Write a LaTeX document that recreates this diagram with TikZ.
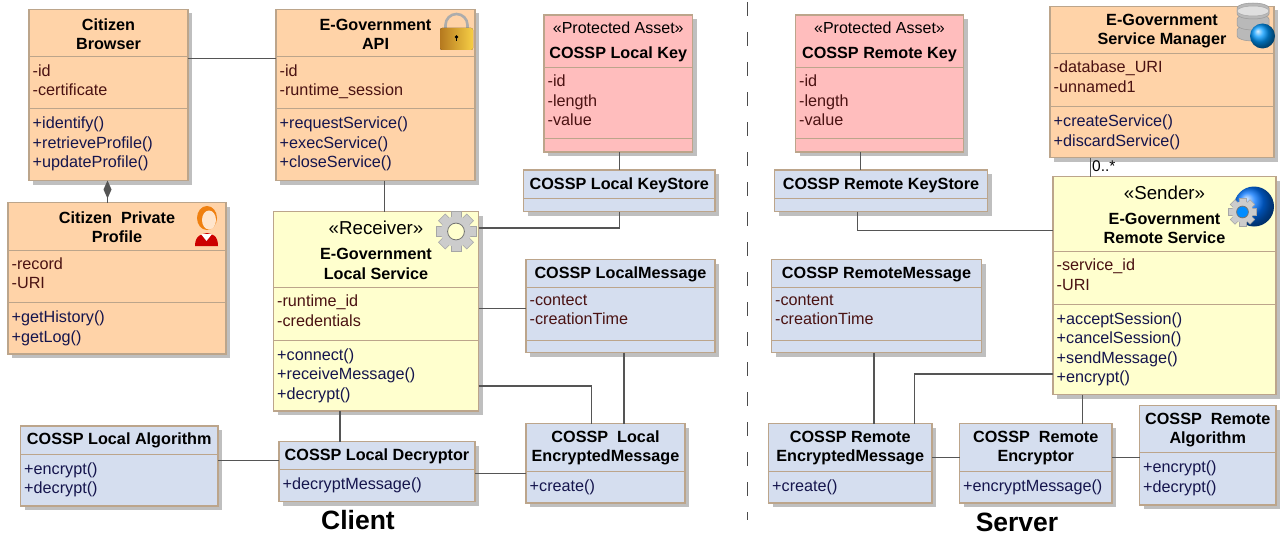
\documentclass[tikz,border=0pt]{standalone}
\usepackage{fontspec}
\setmainfont{Liberation Sans}
\usetikzlibrary{arrows.meta,calc,shadows}
\definecolor{orangeclass}{HTML}{FFD3A8}
\definecolor{yellowclass}{HTML}{FFFFCE}
\definecolor{blueclass}{HTML}{D5DEEF}
\definecolor{pinkclass}{HTML}{FFBDBD}
\definecolor{classborder}{HTML}{BCA58B}
\definecolor{attrtext}{HTML}{4A1212}
\definecolor{opertext}{HTML}{15154D}
\definecolor{connline}{HTML}{555555}
\definecolor{lockdark}{HTML}{B5791F}
\definecolor{lockmid}{HTML}{E9B43C}
\definecolor{locklight}{HTML}{F6CE45}
\newcommand{\umlclass}[9]{
    \node[classbox, #2, anchor=north west, minimum width={(#5-#3)*1pt}, minimum height={(#6-#4)*1pt}] (#1) at (#3,#4) {};
    \coordinate (#1-attr) at (#3,#7);
    \coordinate (#1-oper) at (#3,#8);
    \draw[classsplit] (#1-attr) -- (#1-attr -| #1.east);
    \draw[classsplit] (#1-oper) -- (#1-oper -| #1.east);
    \node[classtitle] (#1-title) at ($(#1.north)!0.5!(#1-attr -| #1.north)$) {#9};
}
\newcommand{\umlattrs}[2]{\node[classlist, inner ysep=7.3pt, text=attrtext] (#1-attrs) at (#1-attr) {#2};}
\newcommand{\umlopers}[2]{\node[classlist, inner ysep=8.5pt, text=opertext] (#1-opers) at (#1-oper) {#2};}
\newcommand{\stereo}[2]{{\fontsize{#1}{#1}\selectfont\mdseries #2}}
\newcommand{\gearicon}[4]{
    \begin{scope}[shift={(#1,#2)}]
        \foreach \a in {0,45,...,315} {
            \fill[gray!40!white, draw=gray!70!white, line width=.5pt, rotate=\a] (-#3*.24,-#3) rectangle (#3*.24,-#3*.6);
        }
        \fill[gray!40!white] (0,0) circle[radius=#3*.76];
        \fill[#4, draw=gray!90!black, line width=.8pt] (0,0) circle[radius=#3*.42];
    \end{scope}
}
\begin{document}
\begin{tikzpicture}[
        x=1pt, y=-1pt,
        font=\fontsize{16.2}{19.4}\selectfont,
        classbox/.style={rectangle, draw=classborder, line width=1.2pt, inner sep=0pt, outer sep=0pt,
            drop shadow={shadow xshift=4pt, shadow yshift=-4pt, fill=black!25, opacity=1}},
        classsplit/.style={draw=classborder, line width=1pt},
        classtitle/.style={font=\fontsize{16.2}{19.4}\selectfont\bfseries, align=center, inner sep=0pt, yshift=-.8pt},
        classlist/.style={anchor=north west, align=left, inner xsep=3.5pt},
        orangefill/.style={fill=orangeclass},
        yellowfill/.style={fill=yellowclass},
        bluefill/.style={fill=blueclass},
        pinkfill/.style={fill=pinkclass},
        conn/.style={draw=connline, line width=1.2pt},
        sidelabel/.style={font=\fontsize{26.5}{26.5}\selectfont\bfseries, inner sep=0pt}
    ]
    \useasboundingbox (0,0) rectangle (1280,535);

    \umlclass{browser}{orangefill}{29}{9.5}{188}{180.5}{57}{108.5}{Citizen\\Browser}
    \umlattrs{browser}{-id\\-certificate}
    \umlopers{browser}{+identify()\\+retrieveProfile()\\+updateProfile()}

    \umlclass{api}{orangefill}{276}{9.5}{475}{180.5}{57}{108.5}{E-Government\\API}
    \umlattrs{api}{-id\\-runtime\_session}
    \umlopers{api}{+requestService()\\+execService()\\+closeService()}

    \umlclass{profile}{orangefill}{8}{202.5}{226}{354}{250}{302.5}{Citizen\ \ Private\\Profile}
    \umlattrs{profile}{-record\\-URI}
    \umlopers{profile}{+getHistory()\\+getLog()}

    \umlclass{localservice}{yellowfill}{273.5}{211.5}{478.5}{411}{287.5}{340}{\stereo{18.7}{«Receiver»}\\[5.5pt]E-Government\\Local Service}
    \umlattrs{localservice}{-runtime\_id\\-credentials}
    \umlopers{localservice}{+connect()\\+receiveMessage()\\+decrypt()}

    \umlclass{localkey}{pinkfill}{544}{15}{692.5}{152}{67.5}{138.5}{\stereo{16}{«Protected Asset»}\\[5.5pt]COSSP Local Key}
    \umlattrs{localkey}{-id\\-length\\-value}

    \umlclass{localstore}{bluefill}{523.5}{170}{715}{211.5}{198.5}{198.5}{COSSP Local KeyStore}

    \umlclass{localmessage}{bluefill}{526}{259.5}{715}{352.5}{287.5}{340}{COSSP LocalMessage}
    \umlattrs{localmessage}{-contect\\-creationTime}

    \umlclass{localencrypted}{bluefill}{526}{423.5}{685}{503}{471}{471}{COSSP\ \ Local\\EncryptedMessage}
    \umlopers{localencrypted}{+create()}

    \umlclass{localalgorithm}{bluefill}{20.5}{426}{218}{506}{454}{454}{COSSP Local Algorithm}
    \umlopers{localalgorithm}{+encrypt()\\+decrypt()}

    \umlclass{localdecryptor}{bluefill}{279}{441.5}{475}{501.5}{469.5}{469.5}{COSSP Local Decryptor}
    \umlopers{localdecryptor}{+decryptMessage()}

    \umlclass{remotekey}{pinkfill}{795.5}{15}{963.5}{152}{67.5}{138.5}{\stereo{16}{«Protected Asset»}\\[5.5pt]COSSP Remote Key}
    \umlattrs{remotekey}{-id\\-length\\-value}

    \umlclass{remotestore}{bluefill}{774.5}{170}{987.5}{211.5}{198.5}{198.5}{COSSP Remote KeyStore}

    \umlclass{remotemessage}{bluefill}{771.5}{259.5}{981.5}{352.5}{287.5}{340}{COSSP RemoteMessage}
    \umlattrs{remotemessage}{-content\\-creationTime}

    \umlclass{remoteencrypted}{bluefill}{768.5}{423.5}{932}{503}{471}{471}{COSSP Remote\\EncryptedMessage}
    \umlopers{remoteencrypted}{+create()}

    \umlclass{remoteencryptor}{bluefill}{959.5}{423.5}{1112}{503}{471}{471}{COSSP\ \ Remote\\Encryptor}
    \umlopers{remoteencryptor}{+encryptMessage()}

    \umlclass{remotealgorithm}{bluefill}{1139.5}{405.5}{1276}{505}{452.5}{452.5}{COSSP\ \ Remote\\Algorithm}
    \umlopers{remotealgorithm}{+encrypt()\\+decrypt()}

    \umlclass{manager}{orangefill}{1050}{6.5}{1274}{157.5}{53.5}{106.5}{E-Government\\Service Manager}
    \umlattrs{manager}{-database\_URI\\-unnamed1}
    \umlopers{manager}{+createService()\\+discardService()}

    \umlclass{remoteservice}{yellowfill}{1053}{176.5}{1276}{394.5}{251.5}{304}{\stereo{18.7}{«Sender»}\\[5.5pt]E-Government\\Remote Service}
    \umlattrs{remoteservice}{-service\_id\\-URI}
    \umlopers{remoteservice}{+acceptSession()\\+cancelSession()\\+sendMessage()\\+encrypt()}

    \draw[conn] (browser.east |- 0,58.5) -- (api.west |- 0,58.5);
    \draw[conn, {Diamond[length=18pt, width=8pt, fill=connline]}-] (browser.south -| 107.5,0) -- (profile.north -| 107.5,0);
    \draw[conn] (api.south -| 384.5,0) -- (localservice.north -| 384.5,0);
    \draw[conn] (localkey.south -| 619.5,0) -- (localstore.north -| 619.5,0);
    \draw[conn] (localstore.south -| 619.5,0) |- (localservice.east |- 0,228);
    \draw[conn] (localservice.east |- 0,308.5) -- (localmessage.west |- 0,308.5);
    \draw[conn] (localservice.east |- 0,386) -| (localencrypted.north -| 591.5,0);
    \draw[conn] (localmessage.south -| 624,0) -- (localencrypted.north -| 624,0);
    \draw[conn] (localservice.south -| 340,0) -- (localdecryptor.north -| 340,0);
    \draw[conn] (localalgorithm.east |- 0,460.5) -- (localdecryptor.west |- 0,460.5);
    \draw[conn] (localdecryptor.east |- 0,473.5) -- (localencrypted.west |- 0,473.5);
    \draw[conn] (remotekey.south -| 860.5,0) -- (remotestore.north -| 860.5,0);
    \draw[conn] (remotestore.south -| 857.5,0) |- (remoteservice.west |- 0,230.5);
    \draw[conn] (manager.south -| 1090.5,0) -- (remoteservice.north -| 1090.5,0);
    \draw[conn] (remotemessage.south -| 874,0) -- (remoteencrypted.north -| 874,0);
    \draw[conn] (remoteservice.west |- 0,374) -| (remoteencrypted.north -| 914.5,0);
    \draw[conn] (remoteservice.south -| 1082.5,0) -- (remoteencryptor.north -| 1082.5,0);
    \draw[conn] (remoteencrypted.east |- 0,457.5) -- (remoteencryptor.west |- 0,457.5);
    \draw[conn] (remoteencryptor.east |- 0,457.5) -- (remotealgorithm.west |- 0,457.5);

    \node[font=\fontsize{15.5}{15.5}\selectfont, anchor=west, inner sep=0pt] (multiplicity) at (1092,166.5) {0..*};
    \node[sidelabel] (client) at (358,520.5) {Client};
    \node[sidelabel] (server) at (1017,522) {Server};

    \coordinate (dividertop) at (747.7,2);
    \coordinate (dividerbottom) at (747.7,520);
    \draw[black!70, line width=1.2pt, dash pattern=on 14pt off 16pt] (dividertop) -- (dividerbottom);

    \draw[gray!65, line width=2.6pt] (445.5,30) -- (445.5,25) arc[start angle=180, end angle=360, radius=11] -- (467.5,30);
    \fill[rounded corners=2pt, left color=lockdark, middle color=lockmid, right color=locklight] (440,28) rectangle (473,50);
    \fill[black] (456.5,37) circle[radius=1.8];
    \fill[black] (455.8,37) rectangle (457.2,41);

    \gearicon{456}{231.5}{20}{yellowclass}

    \fill[orange!75!brown] (207,218) ellipse[x radius=10, y radius=12];
    \fill[red!80!black] (195,246) .. controls (195,235) and (202,234) .. (207,233) .. controls (212,234) and (218,235) .. (218,246) -- cycle;
    \fill[white] (201,234) -- (212,234) -- (206.5,241) -- cycle;
    \fill[orange!20!white] (209,220) ellipse[x radius=7, y radius=9.5];

    \foreach \y in {36,25,14} {
        \fill[gray!55!white, draw=gray!80!white, line width=.5pt] (1237,\y) -- (1237,\y-6) arc[start angle=180, end angle=360, x radius=16, y radius=5] -- (1269,\y) arc[start angle=0, end angle=180, x radius=16, y radius=5] -- cycle;
    }
    \fill[gray!25!white, draw=gray!70!white, line width=.5pt] (1253,11) ellipse[x radius=16, y radius=5];
    \shade[ball color=cyan!60!blue] (1262.5,36) circle[radius=12.5];

    \shade[ball color=blue!55!cyan] (1254,206.5) circle[radius=20];
    \gearicon{1242.5}{212}{14}{blue!45!cyan}
\end{tikzpicture}
\end{document}
